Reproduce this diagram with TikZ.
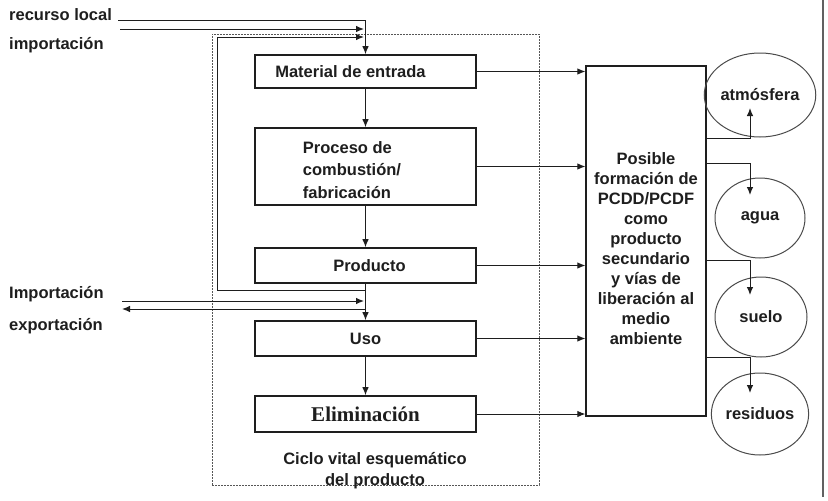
\documentclass[tikz,border=0pt]{standalone}
\usepackage{fontspec}
\setmainfont{Liberation Sans}
\newfontfamily\serifb{Liberation Serif}
\usetikzlibrary{arrows.meta,shapes.geometric}
\definecolor{ink}{HTML}{1E1E1E}
\begin{document}
\begin{tikzpicture}[x=1pt,y=-1pt,
  every node/.style={font=\fontsize{16.5}{20}\selectfont\bfseries, text=ink},
  stagebox/.style={draw=ink, line width=1.6pt, minimum width=221pt, inner sep=0pt},
  arr/.style={draw=ink, line width=1pt, -{Latex[length=8pt,width=6.5pt]}},
  sink/.style={draw=ink!80, line width=1pt, ellipse, inner sep=0pt},
  lbl/.style={anchor=west, inner sep=0pt}]
\useasboundingbox (0,0) rectangle (828,501);
\fill[white] (0,0) rectangle (828,501);
% outer frame edge
\draw[ink!70, line width=1.5pt] (823,0) -- (823,497);
% life-cycle container
\node[draw=ink!75, line width=1pt, dash pattern=on 2pt off 1pt, minimum width=327pt, minimum height=451pt, inner sep=0pt] (cycle) at (375.5,259.5) {};
\node[align=center, font=\fontsize{16.5}{21}\selectfont\bfseries] (cap) at (375,471) {Ciclo vital esquemático\\del producto};
% stages
\node[stagebox, minimum height=33pt, label={[xshift=-15pt]center:Material de entrada}] (mat) at (365.5,71.5) {};
\node[stagebox, minimum height=77pt] (proc) at (365.5,166.5) {};
\node[align=left, inner sep=0pt, font=\fontsize{16.5}{22.5}\selectfont\bfseries] (proctext) at (352,170) {Proceso de\\combustión/\\fabricación};
\node[stagebox, minimum height=35pt] (prod) at (365.5,265.5) {\hspace*{8pt}Producto};
\node[stagebox, minimum height=35pt] (uso) at (365.5,338.5) {Uso};
\node[stagebox, minimum height=36pt, font=\serifb\fontsize{21}{24}\selectfont\bfseries] (elim) at (365.5,414) {Eliminación};
% formation box
\node[draw=ink, line width=1.3pt, minimum width=120pt, minimum height=350pt, inner sep=0pt] (pcdd) at (646,241) {};
\node[align=center, inner sep=0pt] (pcddtext) at (646,249) {Posible\\formación de\\PCDD/PCDF\\como\\producto\\secundario\\y vías de\\liberación al\\medio\\ambiente};
% sinks
\node[sink, minimum width=91pt, minimum height=84pt] (atm) at (760,95) {atmósfera};
\node[sink, minimum width=90pt, minimum height=80pt] (agua) at (760,218) {agua};
\node[sink, minimum width=92pt, minimum height=80pt] (suelo) at (761,317) {suelo};
\node[sink, minimum width=90pt, minimum height=82pt] (res) at (760,414) {residuos};
% labels left
\node[lbl] (rl) at (9,15) {recurso local};
\node[lbl] (imp1) at (9,45) {importación};
\node[lbl] (imp2) at (9,294) {Importación};
\node[lbl] (exp) at (9,326) {exportación};
% coordinates
\coordinate (rlS) at (118,20);
\coordinate (imS) at (120,29);
\coordinate (imE) at (364,29);
\coordinate (loopA) at (365.5,290);
\coordinate (loopB) at (217,290);
\coordinate (loopC) at (217,37);
\coordinate (loopE) at (364,37);
\coordinate (im2S) at (122,301);
\coordinate (im2E) at (364,301);
\coordinate (ex2S) at (365.5,309);
\coordinate (ex2E) at (122,309);
\coordinate (o1) at (706,138);
\coordinate (o1e) at (750,108);
\coordinate (o2) at (706,163);
\coordinate (o2e) at (750,195);
\coordinate (o3) at (706,260);
\coordinate (o3e) at (750,295);
\coordinate (o4) at (706,357);
\coordinate (o4e) at (750,393);
% inputs
\draw[arr] (rlS) -| (mat.north);
\draw[arr] (imS) -- (imE);
\draw[arr] (loopA) -- (loopB) -- (loopC) -- (loopE);
\draw[arr] (im2S) -- (im2E);
\draw[arr] (ex2S) -- (ex2E);
% chain
\draw[arr] (mat) -- (proc);
\draw[arr] (proc) -- (prod);
\draw[arr] (prod) -- (uso);
\draw[arr] (uso) -- (elim);
% outputs to formation box
\draw[arr] (mat.east) -- (mat.east -| pcdd.west);
\draw[arr] (proc.east) -- (proc.east -| pcdd.west);
\draw[arr] (prod.east) -- (prod.east -| pcdd.west);
\draw[arr] (uso.east) -- (uso.east -| pcdd.west);
\draw[arr] (elim.east) -- (elim.east -| pcdd.west);
% releases
\draw[arr] (o1) -| (o1e);
\draw[arr] (o2) -| (o2e);
\draw[arr] (o3) -| (o3e);
\draw[arr] (o4) -| (o4e);
\end{tikzpicture}
\end{document}
